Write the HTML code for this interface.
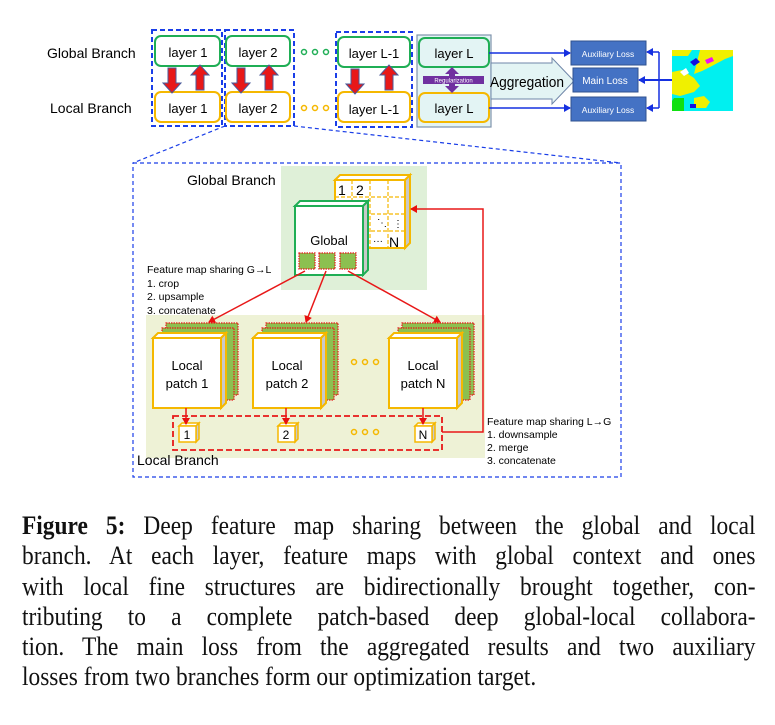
<!DOCTYPE html>
<html><head><meta charset="utf-8"><style>
body{margin:0;background:#fff;width:775px;height:725px;overflow:hidden;position:relative}
svg{position:absolute;left:0;top:0}
.cap{position:absolute;left:22px;width:815px;transform:scaleX(0.9);transform-origin:0 0;font-family:"Liberation Serif",serif;font-size:26px;line-height:30.3px;top:511px;color:#111}
.cap div{text-align:justify;text-align-last:justify;white-space:nowrap}
.cap div.l{text-align-last:left}
</style></head><body>
<svg width="775" height="500" font-family="Liberation Sans, sans-serif">
<defs>
<marker id="rh" markerWidth="8" markerHeight="8" refX="6" refY="4" orient="auto" markerUnits="userSpaceOnUse"><path d="M0,0 L7,4 L0,8 z" fill="#e81010"/></marker>
<marker id="bh" markerWidth="8" markerHeight="8" refX="6" refY="4" orient="auto" markerUnits="userSpaceOnUse"><path d="M0,0 L7,4 L0,8 z" fill="#1530e0"/></marker>
</defs>
<text x="47" y="58" font-size="14">Global Branch</text>
<text x="50" y="113" font-size="14">Local Branch</text>
<g fill="none" stroke="#1a3ee8" stroke-width="2" stroke-dasharray="5,3">
<rect x="152" y="30" width="70" height="96"/>
<rect x="225" y="30" width="69" height="96"/>
<rect x="336" y="32" width="76" height="95"/>
</g>
<g font-size="13" text-anchor="middle">
<rect x="155" y="36" width="65" height="30" rx="6" fill="#fff" stroke="#1fae55" stroke-width="2"/><text x="188" y="57">layer 1</text>
<rect x="155" y="92" width="65" height="30" rx="6" fill="#fff" stroke="#f5b800" stroke-width="2"/><text x="188" y="113">layer 1</text>
<rect x="226" y="36" width="64" height="30" rx="6" fill="#fff" stroke="#1fae55" stroke-width="2"/><text x="258" y="57">layer 2</text>
<rect x="226" y="92" width="64" height="30" rx="6" fill="#fff" stroke="#f5b800" stroke-width="2"/><text x="258" y="113">layer 2</text>
<rect x="338" y="37" width="72" height="30" rx="6" fill="#fff" stroke="#1fae55" stroke-width="2"/><text x="374" y="58">layer L-1</text>
<rect x="338" y="92" width="72" height="30" rx="6" fill="#fff" stroke="#f5b800" stroke-width="2"/><text x="374" y="114">layer L-1</text>
</g>
<g fill="#e81818" stroke="#4a5a9a" stroke-width="1">
<path d="M168,68 h8 v15 h5 l-9,10 l-9,-10 h5z"/><path d="M196,90 h8 v-15 h5 l-9,-10 l-9,10 h5z"/>
<path d="M237,68 h8 v15 h5 l-9,10 l-9,-10 h5z"/><path d="M265,90 h8 v-15 h5 l-9,-10 l-9,10 h5z"/>
<path d="M351,69 h8 v15 h5 l-9,10 l-9,-10 h5z"/><path d="M385,90 h8 v-15 h5 l-9,-10 l-9,10 h5z"/>
</g>
<g fill="none" stroke-width="1.5">
<circle cx="304" cy="52" r="2.5" stroke="#1fae55"/><circle cx="315" cy="52" r="2.5" stroke="#1fae55"/><circle cx="326" cy="52" r="2.5" stroke="#1fae55"/>
<circle cx="304" cy="108" r="2.5" stroke="#f5b800"/><circle cx="315" cy="108" r="2.5" stroke="#f5b800"/><circle cx="326" cy="108" r="2.5" stroke="#f5b800"/>
</g>
<rect x="417" y="35" width="74" height="92" fill="#e3f4f4" stroke="#7f93ac" stroke-width="1.2"/>
<path d="M491,63 H552 V58 L574,81 L552,104 V99 H491 Z" fill="#e3f4f4" stroke="#6f86a8" stroke-width="1"/>
<text x="490" y="87" font-size="14.5" textLength="74" lengthAdjust="spacingAndGlyphs">Aggregation</text>
<rect x="419" y="38" width="70" height="29" rx="6" fill="#e3f4f4" stroke="#1fae55" stroke-width="2"/>
<text x="454" y="58" font-size="13" text-anchor="middle">layer L</text>
<rect x="419" y="93" width="70" height="29" rx="6" fill="#e3f4f4" stroke="#f5b800" stroke-width="2"/>
<text x="454" y="113" font-size="13" text-anchor="middle">layer L</text>
<path d="M452,67 l-7,7 h4 v12 h-4 l7,7 l7,-7 h-4 v-12 h4z" fill="#7030a0"/>
<rect x="423" y="76" width="61" height="8" fill="#7030a0"/>
<text x="453.5" y="82.5" font-size="6" fill="#fff" text-anchor="middle">Regularization</text>
<rect x="571" y="41" width="75" height="24" fill="#4472c4" stroke="#2f528f"/>
<text x="608" y="57" font-size="8.5" fill="#fff" text-anchor="middle">Auxiliary Loss</text>
<rect x="573" y="68" width="65" height="24" fill="#4472c4" stroke="#2f528f"/>
<text x="605" y="84" font-size="10" fill="#fff" text-anchor="middle">Main Loss</text>
<rect x="571" y="97" width="75" height="24" fill="#4472c4" stroke="#2f528f"/>
<text x="608" y="113" font-size="8.5" fill="#fff" text-anchor="middle">Auxiliary Loss</text>
<g stroke="#1530e0" stroke-width="1.5" fill="none">
<line x1="489" y1="53" x2="570" y2="53" marker-end="url(#bh)"/>
<line x1="489" y1="108" x2="570" y2="108" marker-end="url(#bh)"/>
<polyline points="659,52 659,108"/>
<line x1="659" y1="52" x2="647" y2="52" marker-end="url(#bh)"/>
<line x1="659" y1="108" x2="647" y2="108" marker-end="url(#bh)"/>
<line x1="672" y1="80" x2="639" y2="80" stroke-width="2" marker-end="url(#bh)"/>
</g>
<rect x="672" y="50" width="61" height="61" fill="#00f0f0"/>
<path d="M672,50 h20 l-4,6 h-16z" fill="#f0f000"/>
<path d="M700,50 h33 v6 l-8,3 l-15,8 l-8,4 l-8,3z" fill="#f0f000"/>
<path d="M672,72 l10,-2 l12,8 l6,8 l-6,6 l-14,4 l-8,-2z" fill="#f0f000"/>
<path d="M690,62 l6,-4 l4,4 l-6,4z" fill="#1010e0"/>
<path d="M705,60 l7,-3 l2,4 l-7,3z" fill="#f010f0"/>
<path d="M694,98 l10,-2 l6,6 l-4,6 l-12,0z" fill="#f0f000"/>
<path d="M674,98 h10 v13 h-12 v-10z" fill="#10e010"/>
<path d="M690,104 h6 v4 h-6z" fill="#1010e0"/>
<path d="M680,72 l6,-4 l3,5 l-5,3z" fill="#fff"/>
<g stroke="#1a3ee8" stroke-width="1.2" stroke-dasharray="4,3" fill="none">
<line x1="225" y1="126" x2="133" y2="163"/>
<line x1="294" y1="126" x2="621" y2="163"/>
<rect x="133" y="163" width="488" height="314"/>
</g>
<rect x="281" y="166" width="146" height="124" fill="#dff0d8"/>
<text x="187" y="185" font-size="14">Global Branch</text>
<g>
<path d="M335,180 l5,-5 h70 l-5,5z" fill="#fff" stroke="#f5b800" stroke-width="2"/>
<path d="M405,180 l5,-5 v68 l-5,5z" fill="#c8c8c8" stroke="#f5b800" stroke-width="2"/>
<rect x="335" y="180" width="70" height="68" fill="#fff" stroke="#f5b800" stroke-width="2"/>
<g stroke="#f5b800" stroke-width="1.2" stroke-dasharray="4,2">
<line x1="352" y1="180" x2="352" y2="248"/><line x1="370" y1="180" x2="370" y2="248"/><line x1="388" y1="180" x2="388" y2="248"/>
<line x1="335" y1="197" x2="405" y2="197"/><line x1="335" y1="214" x2="405" y2="214"/><line x1="335" y1="231" x2="405" y2="231"/>
</g>
<text x="338" y="195" font-size="14">1</text><text x="356" y="195" font-size="14">2</text>
<text x="389" y="247" font-size="14">N</text>
<text x="373" y="244" font-size="10">···</text>
<text x="377" y="226" font-size="10">⋱</text><text x="393" y="227" font-size="10">⋮</text>
</g>
<path d="M295,206 l5,-5 h68 l-5,5z" fill="#fff" stroke="#1fae55" stroke-width="2"/>
<path d="M363,206 l5,-5 v69 l-5,5z" fill="#c8c8c8" stroke="#1fae55" stroke-width="2"/>
<rect x="295" y="206" width="68" height="69" fill="#fff" stroke="#1fae55" stroke-width="2"/>
<text x="329" y="245" font-size="13" text-anchor="middle">Global</text>
<g fill="#8cc050" stroke="#e81818" stroke-width="1.2" stroke-dasharray="1.5,1">
<rect x="299" y="253" width="16" height="16"/><rect x="319" y="253" width="16" height="16"/><rect x="340" y="253" width="16" height="16"/>
</g>
<text x="147" y="273" font-size="10.5">Feature map sharing G→L</text>
<text x="147" y="287" font-size="10.5">1. crop</text>
<text x="147" y="300" font-size="10.5">2. upsample</text>
<text x="147" y="314" font-size="10.5">3. concatenate</text>
<rect x="146" y="315" width="339" height="143" fill="#eef2d6"/>
<g id="stack">
<rect x="166" y="323" width="72" height="72" fill="#8cc050" stroke="#e81818" stroke-width="1.2" stroke-dasharray="1.5,1"/>
<rect x="162" y="328" width="72" height="72" fill="#8cc050" stroke="#e81818" stroke-width="1.2" stroke-dasharray="1.5,1"/>
<path d="M153,338 l5,-5 h68 l-5,5z" fill="#fff" stroke="#f5b800" stroke-width="2"/>
<path d="M221,338 l5,-5 v70 l-5,5z" fill="#c8c8c8" stroke="#f5b800" stroke-width="2"/>
<rect x="153" y="338" width="68" height="70" fill="#fff" stroke="#f5b800" stroke-width="2"/>
</g>
<use href="#stack" x="100"/>
<use href="#stack" x="236"/>
<g font-size="13" text-anchor="middle">
<text x="187" y="370">Local</text><text x="187" y="388">patch 1</text>
<text x="287" y="370">Local</text><text x="287" y="388">patch 2</text>
<text x="423" y="370">Local</text><text x="423" y="388">patch N</text>
</g>
<g fill="none" stroke="#f5b800" stroke-width="1.5">
<circle cx="354" cy="362" r="2.5"/><circle cx="365" cy="362" r="2.5"/><circle cx="376" cy="362" r="2.5"/>
<circle cx="354" cy="432" r="2.5"/><circle cx="365" cy="432" r="2.5"/><circle cx="376" cy="432" r="2.5"/>
</g>
<rect x="173" y="416" width="269" height="34" fill="none" stroke="#e81818" stroke-width="1.8" stroke-dasharray="6,3"/>
<g id="sc">
<path d="M179,426 l3,-3 h17 l-3,3z" fill="#fff" stroke="#f5b800" stroke-width="1.5"/>
<path d="M196,426 l3,-3 v16 l-3,3z" fill="#c8c8c8" stroke="#f5b800" stroke-width="1.5"/>
<rect x="179" y="426" width="17" height="16" fill="#fff" stroke="#f5b800" stroke-width="1.5"/>
</g>
<use href="#sc" x="99"/><use href="#sc" x="236"/>
<g font-size="12" text-anchor="middle"><text x="187" y="439">1</text><text x="286" y="439">2</text><text x="423" y="439">N</text></g>
<g stroke="#e81818" stroke-width="1.5" fill="none">
<line x1="186" y1="408" x2="186" y2="424" marker-end="url(#rh)"/>
<line x1="286" y1="408" x2="286" y2="424" marker-end="url(#rh)"/>
<line x1="423" y1="408" x2="423" y2="424" marker-end="url(#rh)"/>
<line x1="305" y1="271" x2="209" y2="322" marker-end="url(#rh)"/>
<line x1="326" y1="271" x2="306" y2="322" marker-end="url(#rh)"/>
<line x1="348" y1="271" x2="440" y2="322" marker-end="url(#rh)"/>
<polyline points="442,432 483,432 483,209 411,209" marker-end="url(#rh)"/>
</g>
<text x="137" y="465" font-size="14">Local Branch</text>
<text x="487" y="425" font-size="10.5">Feature map sharing L→G</text>
<text x="487" y="438" font-size="10.5">1. downsample</text>
<text x="487" y="451" font-size="10.5">2. merge</text>
<text x="487" y="464" font-size="10.5">3. concatenate</text>
</svg>
<div class="cap">
<div><b>Figure 5:</b> Deep feature map sharing between the global and local</div>
<div>branch. At each layer, feature maps with global context and ones</div>
<div>with local fine structures are bidirectionally brought together, con-</div>
<div>tributing to a complete patch-based deep global-local collabora-</div>
<div>tion. The main loss from the aggregated results and two auxiliary</div>
<div class="l">losses from two branches form our optimization target.</div>
</div>
</body></html>
